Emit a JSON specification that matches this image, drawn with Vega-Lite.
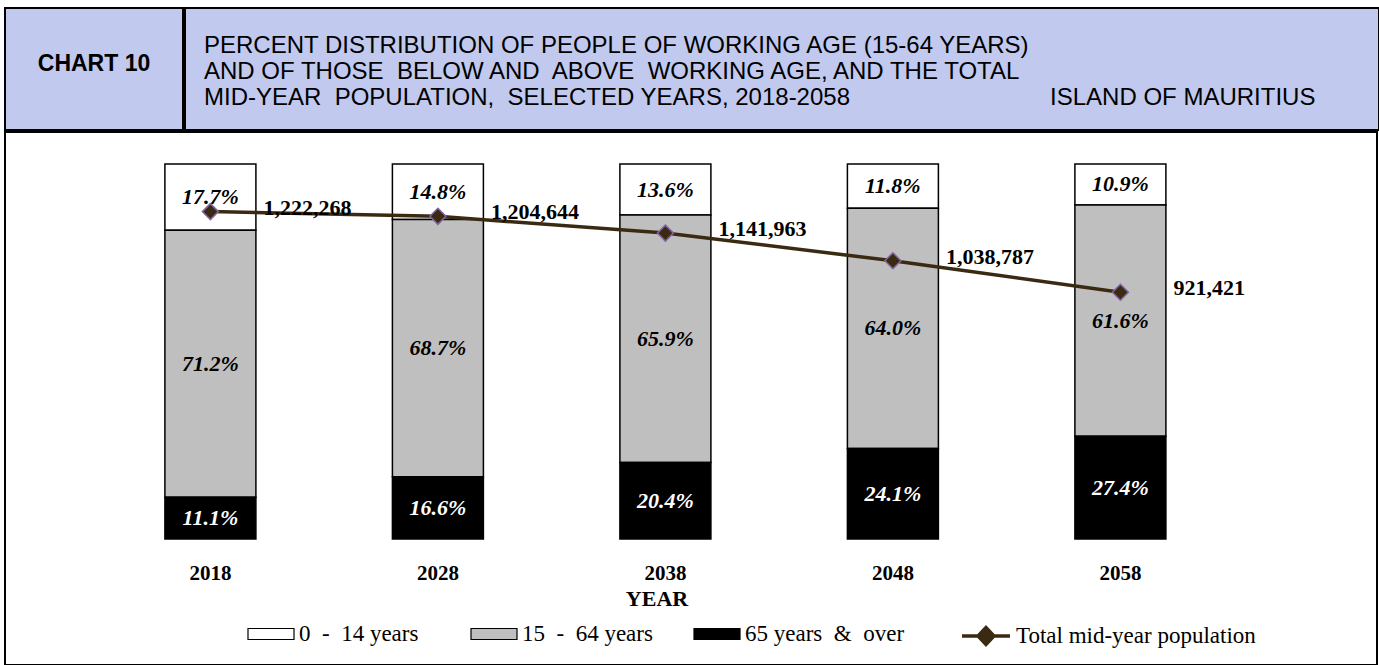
{
  "$schema": "https://vega.github.io/schema/vega-lite/v6.json",
  "padding": {"left": 4, "top": 7, "right": 0, "bottom": 0},
  "background": "white",
  "spacing": 0,
  "config": {
    "font": "Liberation Serif",
    "view": {"stroke": "black", "strokeWidth": 2},
    "concat": {"spacing": 0}
  },
  "datasets": {
    "shares": [
      {"year": "2018", "group": "0 - 14 years", "pct": 0.177},
      {"year": "2018", "group": "15 - 64 years", "pct": 0.712},
      {"year": "2018", "group": "65 years & over", "pct": 0.111},
      {"year": "2028", "group": "0 - 14 years", "pct": 0.148},
      {"year": "2028", "group": "15 - 64 years", "pct": 0.687},
      {"year": "2028", "group": "65 years & over", "pct": 0.166},
      {"year": "2038", "group": "0 - 14 years", "pct": 0.136},
      {"year": "2038", "group": "15 - 64 years", "pct": 0.659},
      {"year": "2038", "group": "65 years & over", "pct": 0.204},
      {"year": "2048", "group": "0 - 14 years", "pct": 0.118},
      {"year": "2048", "group": "15 - 64 years", "pct": 0.640},
      {"year": "2048", "group": "65 years & over", "pct": 0.241},
      {"year": "2058", "group": "0 - 14 years", "pct": 0.109},
      {"year": "2058", "group": "15 - 64 years", "pct": 0.616},
      {"year": "2058", "group": "65 years & over", "pct": 0.274}
    ],
    "population": [
      {"year": "2018", "pop": 1222268},
      {"year": "2028", "pop": 1204644},
      {"year": "2038", "pop": 1141963},
      {"year": "2048", "pop": 1038787},
      {"year": "2058", "pop": 921421}
    ]
  },
  "vconcat": [
    {
      "spacing": 0,
      "hconcat": [
        {
          "width": 178,
          "height": 122,
          "view": {"fill": "#C1C9EF", "stroke": "black", "strokeWidth": 2},
          "data": {"values": [{"label": "CHART 10"}]},
          "mark": {"type": "text", "font": "Liberation Sans", "fontSize": 23, "fontWeight": "bold", "dy": -5, "color": "black"},
          "encoding": {"text": {"field": "label"}}
        },
        {
          "width": 1194,
          "height": 122,
          "view": {"fill": "#C1C9EF", "stroke": "black", "strokeWidth": 2},
          "title": {
            "text": [
              "PERCENT DISTRIBUTION OF PEOPLE OF WORKING AGE (15-64 YEARS)",
              "AND OF THOSE\u00a0 BELOW AND\u00a0 ABOVE\u00a0 WORKING AGE, AND THE TOTAL",
              "MID-YEAR\u00a0 POPULATION,\u00a0 SELECTED YEARS, 2018-2058\u00a0\u00a0\u00a0\u00a0\u00a0\u00a0\u00a0\u00a0\u00a0\u00a0\u00a0\u00a0\u00a0\u00a0\u00a0\u00a0\u00a0\u00a0\u00a0\u00a0\u00a0\u00a0\u00a0\u00a0\u00a0\u00a0\u00a0\u00a0\u00a0\u00a0ISLAND OF MAURITIUS"
            ],
            "anchor": "start",
            "frame": "group",
            "orient": "top",
            "baseline": "top",
            "offset": -102,
            "dx": 19,
            "font": "Liberation Sans",
            "fontSize": 24,
            "fontWeight": "normal",
            "color": "black",
            "lineHeight": 26
          },
          "data": {"values": [{"label": ""}]},
          "mark": {"type": "text"},
          "encoding": {"text": {"field": "label"}}
        }
      ]
    },
    {
      "width": 1372,
      "height": 533,
      "view": {"fill": "white", "stroke": "black", "strokeWidth": 2},
      "encoding": {
        "x": {
          "field": "year",
          "type": "ordinal",
          "scale": {"paddingInner": 0.6, "paddingOuter": 0.8154, "align": 0.431},
          "axis": {
            "title": "YEAR",
            "orient": "bottom",
            "offset": -103,
            "domain": false,
            "ticks": false,
            "labelPadding": 0,
            "labelAngle": 0,
            "labelFont": "Liberation Serif",
            "labelFontSize": 21,
            "labelFontWeight": "bold",
            "labelColor": "black",
            "titleFont": "Liberation Serif",
            "titleFontSize": 22,
            "titleFontWeight": "bold",
            "titleColor": "black",
            "titleX": 651.5,
            "titleY": 26,
            "titleBaseline": "top",
            "titleAlign": "center",
            "grid": false,
            "zindex": 1
          }
        }
      },
      "layer": [
        {
          "data": {"name": "shares"},
          "encoding": {
            "y": {
              "field": "pct",
              "type": "quantitative",
              "stack": "normalize",
              "scale": {"domain": [-0.336, 1.08533], "nice": false, "zero": false},
              "axis": null
            },
            "order": {"field": "group", "sort": "descending"}
          },
          "layer": [
            {
              "mark": {"type": "bar", "stroke": "black", "strokeWidth": 1.5},
              "encoding": {
                "fill": {
                  "field": "group",
                  "type": "nominal",
                  "scale": {
                    "domain": ["0 - 14 years", "15 - 64 years", "65 years & over"],
                    "range": ["#FFFFFF", "#BFBFBF", "#000000"]
                  },
                  "legend": {
                    "orient": "none",
                    "legendX": 242,
                    "legendY": 602,
                    "direction": "horizontal",
                    "title": null,
                    "symbolType": "M-1,-0.24H1V0.24H-1Z",
                    "symbolSize": 2116,
                    "symbolStrokeColor": "black",
                    "symbolStrokeWidth": 1.2,
                    "labelFont": "Liberation Serif",
                    "labelFontSize": 23,
                    "labelColor": "black",
                    "labelOffset": 4,
                    "labelLimit": 0,
                    "columnPadding": 9,
                    "gridAlign": "all",
                    "labelExpr": "replace(replace(datum.label, ' - ', '\u00a0 -\u00a0 '), ' & ', '\u00a0 &\u00a0 ')"
                  }
                }
              }
            },
            {
              "mark": {"type": "text", "font": "Liberation Serif", "fontSize": 22, "fontWeight": "bold", "fontStyle": "italic"},
              "encoding": {
                "y": {"field": "pct", "type": "quantitative", "stack": "normalize", "bandPosition": 0.5},
                "detail": {"field": "group"},
                "text": {"field": "pct", "type": "quantitative", "format": ".1%"},
                "fill": {"condition": {"test": "datum.group === '65 years & over'", "value": "white"}, "value": "black"}
              }
            }
          ]
        },
        {
          "data": {"name": "population"},
          "encoding": {
            "y": {
              "field": "pop",
              "type": "quantitative",
              "scale": {"domain": [-470400, 1519467], "nice": false, "zero": false},
              "axis": null
            }
          },
          "layer": [
            {
              "mark": {"type": "line", "strokeWidth": 3.5},
              "encoding": {
                "stroke": {
                  "datum": "Total mid-year population",
                  "type": "nominal",
                  "scale": {"range": ["#3B2A12"]},
                  "legend": {
                    "orient": "none",
                    "legendX": 955,
                    "legendY": 602,
                    "title": null,
                    "symbolType": "M-1,0H1M-0.33,0L0,-0.35L0.33,0L0,0.35ZM-0.17,0L0,-0.18L0.17,0L0,0.18Z",
                    "symbolSize": 2304,
                    "symbolStrokeWidth": 3.5,
                    "symbolFillColor": "#3B2A12",
                    "labelFont": "Liberation Serif",
                    "labelFontSize": 23,
                    "labelColor": "black",
                    "labelOffset": 4,
                    "labelLimit": 0
                  }
                }
              }
            },
            {
              "mark": {"type": "point", "shape": "diamond", "filled": true, "fill": "#3B2A12", "stroke": "#8064A2", "strokeWidth": 1.5, "size": 256, "opacity": 1}
            },
            {
              "mark": {"type": "text", "align": "left", "dx": 53, "dy": -4, "font": "Liberation Serif", "fontSize": 22, "fontWeight": "bold", "color": "black"},
              "encoding": {"text": {"field": "pop", "type": "quantitative", "format": ","}}
            }
          ]
        }
      ],
      "resolve": {"scale": {"y": "independent"}}
    }
  ]
}
